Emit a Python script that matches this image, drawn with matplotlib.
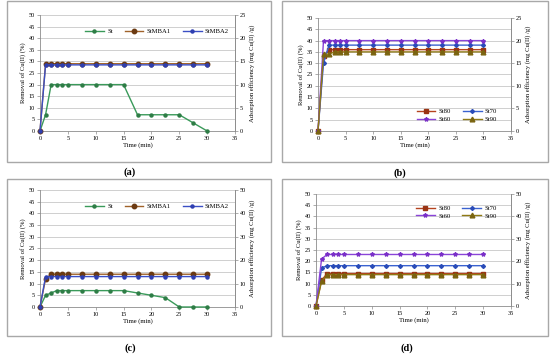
import numpy as np
import matplotlib
matplotlib.use("Agg")
from matplotlib import pyplot as plt
from matplotlib.patches import Rectangle

plt.rcParams['font.family'] = ['Liberation Serif', 'DejaVu Serif']

W, H = 550, 356

time = [0, 1, 2, 3, 4, 5, 7.5, 10, 12.5, 15, 17.5, 20, 22.5, 25, 27.5, 30]

# panel (a)
a_st = [0, 7, 20, 20, 20, 20, 20, 20, 20, 20, 7, 7, 7, 7, 3.5, 0]
a_mba1 = [0, 29, 29, 29, 29, 29, 29, 29, 29, 29, 29, 29, 29, 29, 29, 29]
a_mba2 = [0, 28.5, 28.5, 28.5, 28.5, 28.5, 28.5, 28.5, 28.5, 28.5, 28.5, 28.5, 28.5, 28.5, 28.5, 28.5]

# panel (b)
b_st80 = [0, 33, 36, 36, 36, 36, 36, 36, 36, 36, 36, 36, 36, 36, 36, 36]
b_st70 = [0, 30, 38, 38, 38, 38, 38, 38, 38, 38, 38, 38, 38, 38, 38, 38]
b_st60 = [0, 40, 40, 40, 40, 40, 40, 40, 40, 40, 40, 40, 40, 40, 40, 40]
b_st90 = [0, 34, 34, 35, 35, 35, 35, 35, 35, 35, 35, 35, 35, 35, 35, 35]

# panel (c)
c_st = [0, 5, 6, 7, 7, 7, 7, 7, 7, 7, 6, 5, 4, 0, 0, 0]
c_mba1 = [0, 12, 14, 14, 14, 14, 14, 14, 14, 14, 14, 14, 14, 14, 14, 14]
c_mba2 = [0, 13, 13, 13, 13, 13, 13, 13, 13, 13, 13, 13, 13, 13, 13, 13]

# panel (d)
d_st80 = [0, 11.5, 14.5, 14.5, 14.5, 14.5, 14.5, 14.5, 14.5, 14.5, 14.5, 14.5, 14.5, 14.5, 14.5, 14.5]
d_st70 = [0, 17, 18, 18, 18, 18, 18, 18, 18, 18, 18, 18, 18, 18, 18, 18]
d_st60 = [0, 21, 23, 23, 23, 23, 23, 23, 23, 23, 23, 23, 23, 23, 23, 23]
d_st90 = [0, 11, 14, 14, 14, 14, 14, 14, 14, 14, 14, 14, 14, 14, 14, 14]

styles = {
    'St': dict(color='#3a9a5a', marker='o', ms=2.2, mfc='#2e7d46', mec='#2e7d46'),
    'StMBA1': dict(color='#a0622a', marker='o', ms=3.2, mfc='#6b3a12', mec='#6b3a12'),
    'StMBA2': dict(color='#3b4fc4', marker='o', ms=2.2, mfc='#2f3fb0', mec='#2f3fb0'),
    'St80': dict(color='#b5431f', marker='s', ms=2.6, mfc='#9a3414', mec='#9a3414'),
    'St70': dict(color='#3a62d0', marker='D', ms=2.0, mfc='#2a4cb8', mec='#2a4cb8'),
    'St60': dict(color='#8a44d8', marker='*', ms=3.0, mfc='#7a30c8', mec='#7a30c8'),
    'St90': dict(color='#8f7a14', marker='^', ms=3.4, mfc='#7a6410', mec='#7a6410'),
}

fig = plt.figure(figsize=(W / 100, H / 100), dpi=100)


def px_axes(left, top, right, bottom):
    return fig.add_axes([left / W, 1 - bottom / H, (right - left) / W, (bottom - top) / H])


def frame(left, top, right, bottom):
    fig.patches.append(Rectangle((left / W, 1 - bottom / H), (right - left) / W, (bottom - top) / H,
                                 transform=fig.transFigure, fill=False, ec='#a8a8a8', lw=1.0))


def panel(box, series, right_max, legend_loc, ncol, order):
    ax = px_axes(*box)
    lines = {}
    for name, vals in series:
        lines[name], = ax.plot(time, vals, lw=1.0, label=name, clip_on=False, zorder=3, **styles[name])
    ax.set_xlim(0, 35)
    ax.set_ylim(0, 50)
    ax.set_xticks(range(0, 36, 5))
    ax.set_yticks(range(0, 51, 5))
    ax.grid(axis='y', color='#c8c8c8', lw=0.6)
    ax.set_axisbelow(True)
    for s in ax.spines.values():
        s.set_color('#8c8c8c')
        s.set_linewidth(0.6)
    ax.spines['top'].set_visible(False)
    ax.tick_params(labelsize=4.5, length=2, width=0.5, color='#8c8c8c', pad=1.5)
    ax.set_xlabel('Time (min)', fontsize=4.8, labelpad=1)
    ax.set_ylabel('Removal of Cu(II) (%)', fontsize=4.8, labelpad=2)
    ax2 = ax.twinx()
    ax2.set_ylim(0, right_max)
    ax2.set_yticks(np.arange(0, right_max + 1, right_max / 5))
    ax2.tick_params(labelsize=4.5, length=2, width=0.5, color='#8c8c8c', pad=1.5)
    for s in ax2.spines.values():
        s.set_visible(False)
    ax2.spines['right'].set_visible(True)
    ax2.spines['right'].set_color('#8c8c8c')
    ax2.spines['right'].set_linewidth(0.6)
    ax2.set_ylabel('Adsorption efficiency (mg Cu(II) /g)', fontsize=4.8, labelpad=2)
    handles = [lines[n] for n in order]
    ax.legend(handles, order, loc='center', bbox_to_anchor=legend_loc, ncol=ncol, fontsize=4.8, frameon=False,
              handlelength=2.8, columnspacing=1.8, handletextpad=0.5, labelspacing=0.3)
    return ax


frame(7, 1, 271, 162)
frame(282, 1, 548, 162)
frame(7, 179, 271, 336)
frame(282, 179, 548, 336)

three = ['St', 'StMBA1', 'StMBA2']
four = ['St80', 'St60', 'St70', 'St90']
panel((40, 15, 235, 131), [('St', a_st), ('StMBA1', a_mba1), ('StMBA2', a_mba2)], 25, (0.6, 0.86), 3, three)
panel((318, 18, 511, 131), [('St80', b_st80), ('St70', b_st70), ('St60', b_st60), ('St90', b_st90)], 25,
      (0.72, 0.14), 2, four)
panel((40, 190, 235, 307), [('St', c_st), ('StMBA1', c_mba1), ('StMBA2', c_mba2)], 50, (0.6, 0.86), 3, three)
panel((316, 194, 511, 306), [('St80', d_st80), ('St70', d_st70), ('St60', d_st60), ('St90', d_st90)], 50,
      (0.72, 0.84), 2, four)

for lab, x, y in [('(a)', 130, 172), ('(b)', 400, 173), ('(c)', 130, 348), ('(d)', 407, 348)]:
    fig.text(x / W, 1 - y / H, lab, ha='center', va='center', fontsize=7.5, fontweight='bold')

fig.savefig('out.png', dpi=100)
